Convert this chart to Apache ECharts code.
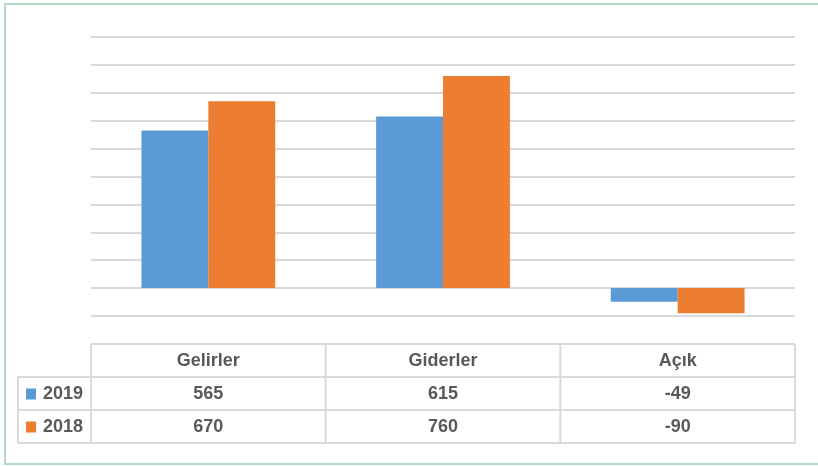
<!DOCTYPE html>
<html>
<head>
<meta charset="utf-8">
<script src="https://cdn.jsdelivr.net/npm/echarts@6/dist/echarts.min.js"></script>
<style>
  html, body { margin: 0; padding: 0; background: #ffffff; }
  #chart { width: 818px; height: 466px; }
</style>
</head>
<body>
<div id="chart"></div>
<script>
// Budget figures: revenues, expenditures and deficit
const categories = ['Gelirler', 'Giderler', 'Açık'];
const seriesNames = ['2019', '2018'];
const values2019 = [565, 615, -49];
const values2018 = [670, 760, -90];
const seriesColors = ['#5B9BD5', '#ED7D31'];

const axisMin = -100;
const axisMax = 900;
const axisStep = 100;

const gridColor = '#d9d9d9';
const textColor = '#595959';
const fontFamily = '"Liberation Sans", Arial, sans-serif';

const chart = echarts.init(document.getElementById('chart'), null, { renderer: 'canvas' });

const seriesData = [values2019, values2018];

chart.setOption({
  animation: false,
  backgroundColor: '#ffffff',
  grid: { left: 91, right: 23, top: 37, bottom: 150, containLabel: false },
  xAxis: {
    type: 'category',
    data: categories,
    axisLine: { show: false },
    axisTick: { show: false },
    axisLabel: { show: false },
    splitLine: { show: false }
  },
  yAxis: {
    type: 'value',
    min: axisMin,
    max: axisMax,
    interval: axisStep,
    axisLine: { show: false },
    axisTick: { show: false },
    axisLabel: { show: false },
    splitLine: { show: true, lineStyle: { color: gridColor, width: 2 } }
  },
  series: seriesNames.map((name, i) => ({
    name: name,
    type: 'bar',
    data: seriesData[i],
    barGap: '0%',
    barCategoryGap: '43%',
    itemStyle: { color: seriesColors[i] }
  }))
});

// Data table under the plot, aligned with the category bands
function buildTable() {
  const c0 = chart.convertToPixel({ xAxisIndex: 0 }, 0);
  const c1 = chart.convertToPixel({ xAxisIndex: 0 }, 1);
  const band = c1 - c0;
  const colEdges = [];
  for (let i = 0; i <= categories.length; i++) colEdges.push(c0 - band / 2 + i * band);
  const tableLeft = 18;
  const rowEdges = [344, 377, 410, 443];
  const tableRight = colEdges[colEdges.length - 1];
  const line = (x1, y1, x2, y2) => ({
    type: 'line',
    shape: { x1, y1, x2, y2 },
    style: { stroke: gridColor, lineWidth: 2 },
    silent: true
  });
  const els = [];
  // outer frame of the chart area
  els.push({
    type: 'rect',
    shape: { x: 5, y: 4, width: 830, height: 460 },
    style: { fill: null, stroke: '#b3dbc3', lineWidth: 2 },
    silent: true
  });
  // horizontal rules
  els.push(line(colEdges[0], rowEdges[0], tableRight, rowEdges[0]));
  for (let r = 1; r < rowEdges.length; r++) els.push(line(tableLeft, rowEdges[r], tableRight, rowEdges[r]));
  // vertical rules
  els.push(line(tableLeft, rowEdges[1], tableLeft, rowEdges[3]));
  colEdges.forEach(x => els.push(line(x, rowEdges[0], x, rowEdges[3])));

  const txt = (x, y, text, align) => ({
    type: 'text',
    x, y,
    style: {
      text: String(text),
      fill: textColor,
      font: 'bold 18px ' + fontFamily,
      align: align || 'center',
      verticalAlign: 'middle'
    },
    silent: true
  });
  const rowMid = r => (rowEdges[r] + rowEdges[r + 1]) / 2 + 1;
  categories.forEach((cat, i) => {
    const cx = (colEdges[i] + colEdges[i + 1]) / 2;
    els.push(txt(cx, rowMid(0), cat));
    seriesData.forEach((vals, s) => els.push(txt(cx, rowMid(s + 1), vals[i])));
  });
  seriesNames.forEach((name, s) => {
    const y = rowMid(s + 1);
    els.push({
      type: 'rect',
      shape: { x: 26, y: y - 6, width: 10, height: 11 },
      style: { fill: seriesColors[s] },
      silent: true
    });
    els.push(txt(43, y, name, 'left'));
  });
  chart.setOption({ graphic: { elements: els } });
}
buildTable();
</script>
</body>
</html>
